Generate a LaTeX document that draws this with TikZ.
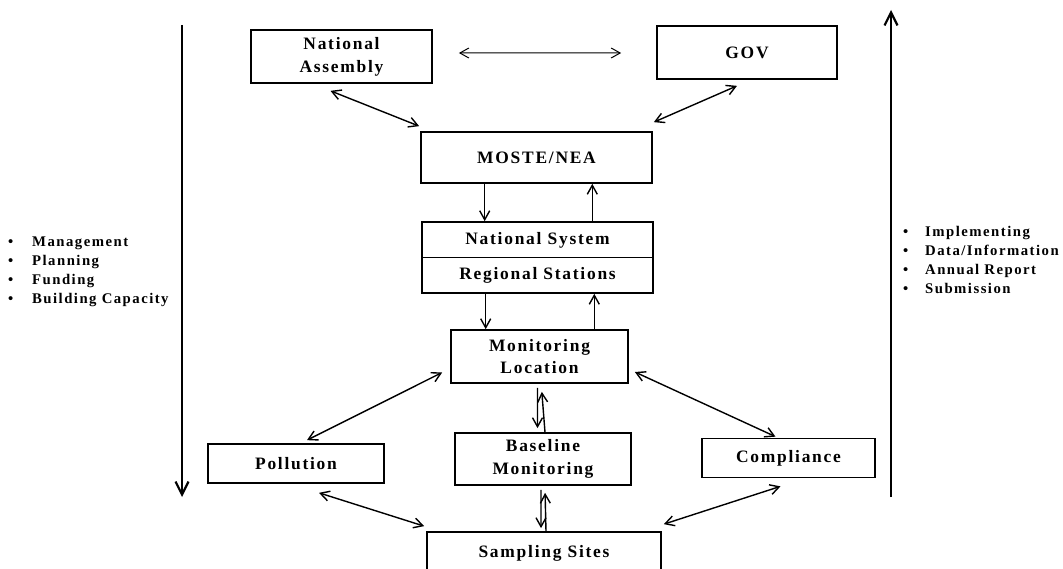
\documentclass[tikz,border=0pt]{standalone}
\usepackage{fontspec}
\setmainfont[LetterSpace=10]{Liberation Serif}
\usetikzlibrary{arrows.meta,calc}
\begin{document}
\begin{tikzpicture}[x=1bp,y=-1bp,
  box/.style={draw, line width=1.7bp, rectangle, inner sep=0pt, align=center,
    font=\fontsize{17.5}{23}\selectfont\bfseries},
  lbl/.style={inner sep=0pt, align=center, font=\fontsize{17.5}{23}\selectfont\bfseries},
  tip/.style={Straight Barb[length=9bp,width=10bp,line width=1.4bp]},
  arr/.style={line width=1.4bp, {Straight Barb[length=9bp,width=10bp]}-{Straight Barb[length=9bp,width=10bp]}},
  oneway/.style={line width=1.4bp, -{Straight Barb[length=9bp,width=10bp]}},
  bigarr/.style={line width=2.6bp, -{Straight Barb[length=13bp,width=13bp,line width=2.2bp]}},
  listtext/.style={inner sep=0pt, anchor=north west, align=left,
    font=\fontsize{14.8}{19}\selectfont\bfseries}
]
\useasboundingbox (0,0) rectangle (1063,569);
\clip (0,0) rectangle (1063,569);

% boxes
\node[box, minimum width=181bp, minimum height=53bp] (na) at (341.5,56.5) {National\\Assembly};
\node[box, minimum width=180bp, minimum height=53bp] (gov) at (747,52.5) {GOV};
\node[box, minimum width=231bp, minimum height=51bp] (moste) at (536.5,157.5) {MOSTE/NEA};
\node[box, minimum width=231bp, minimum height=71bp] (ns) at (537.5,257.5) {};
\draw[line width=1.2bp] (ns.west) -- (ns.east);
\node[lbl] (nst) at (537.5,240) {National System};
\node[lbl] (nsb) at (537.5,275) {Regional Stations};
\node[box, minimum width=177bp, minimum height=53bp] (ml) at (539.5,356.5) {Monitoring\\Location};
\node[box, minimum width=176bp, minimum height=39bp] (pol) at (296,463.5) {Pollution};
\node[box, minimum width=176bp, minimum height=52bp] (base) at (543,459) {Baseline\\Monitoring};
\node[box, minimum width=173bp, minimum height=39bp] (comp) at (788.5,458) {Compliance};
\node[box, minimum width=234bp, minimum height=42bp] (samp) at (544,553) {Sampling Sites};

% top horizontal arrow
\draw[{Straight Barb[length=9bp,width=10bp]}-{Straight Barb[length=9bp,width=10bp]}, line width=1bp]
  ([shift={(26,-3.5)}]na.east) -- ([shift={(-35,0.5)}]gov.west);

% diagonal arrows to MOSTE
\draw[arr] ([shift={(-11,7)}]na.south) -- ([shift={(-1,-5)}]moste.north west);
\draw[arr] ([shift={(-10,6)}]gov.south) -- ([shift={(1,-9)}]moste.north east);

% vertical one-way arrows
\draw[oneway] ([xshift=-52]moste.south) -- ([xshift=-52]moste.south |- ns.north);
\draw[oneway] ([xshift=55]ns.north) -- ([xshift=55]ns.north |- moste.south);
\draw[oneway] ([xshift=-52]ns.south) -- ([xshift=-52]ns.south |- ml.north);
\draw[oneway] ([xshift=55]ml.north) -- ([xshift=55]ml.north |- ns.south);

% monitoring location to branches
\draw[arr] ([shift={(-8,16)}]ml.west) -- ([shift={(11,-3)}]pol.north);
\draw[arr] ([shift={(6,15.5)}]ml.east) -- ([shift={(-13,-1)}]comp.north);
\draw[oneway, shorten >=4bp] ([shift={(-2,4)}]ml.south) -- ([xshift=-2]ml.south |- base.north);
\draw[oneway, shorten >=4bp] ([xshift=2]base.north) -- ([shift={(2,4)}]ml.south |- ml.south);

% to sampling sites
\draw[arr] ([shift={(23,9)}]pol.south) -- ([shift={(-2,-5)}]samp.north west);
\draw[arr] ([shift={(-8,8)}]comp.south) -- ([shift={(2,-7)}]samp.north east);
\draw[oneway, shorten >=3bp] ([shift={(-2,4)}]base.south) -- ([xshift=-2]base.south |- samp.north);
\draw[oneway, shorten >=3bp] ([xshift=2]samp.north) -- ([shift={(2,4)}]base.south);

% side arrows
\coordinate (l1) at (182,25);
\coordinate (l2) at (182,497);
\coordinate (r1) at (891,497);
\coordinate (r2) at (891,10);
\draw[bigarr] (l1) -- (l2);
\draw[bigarr] (r1) -- (r2);

% lists
\node[listtext] (llist) at (8,237) {%
\makebox[24bp][l]{\textbullet}Management\\
\makebox[24bp][l]{\textbullet}Planning\\
\makebox[24bp][l]{\textbullet}Funding\\
\makebox[24bp][l]{\textbullet}Building Capacity};
\node[listtext] (rlist) at (903,226) {%
\makebox[22bp][l]{\textbullet}Implementing\\
\makebox[22bp][l]{\textbullet}Data/Information\\
\makebox[22bp][l]{\textbullet}Annual Report\\
\makebox[22bp][l]{\textbullet}Submission};
\end{tikzpicture}
\end{document}
